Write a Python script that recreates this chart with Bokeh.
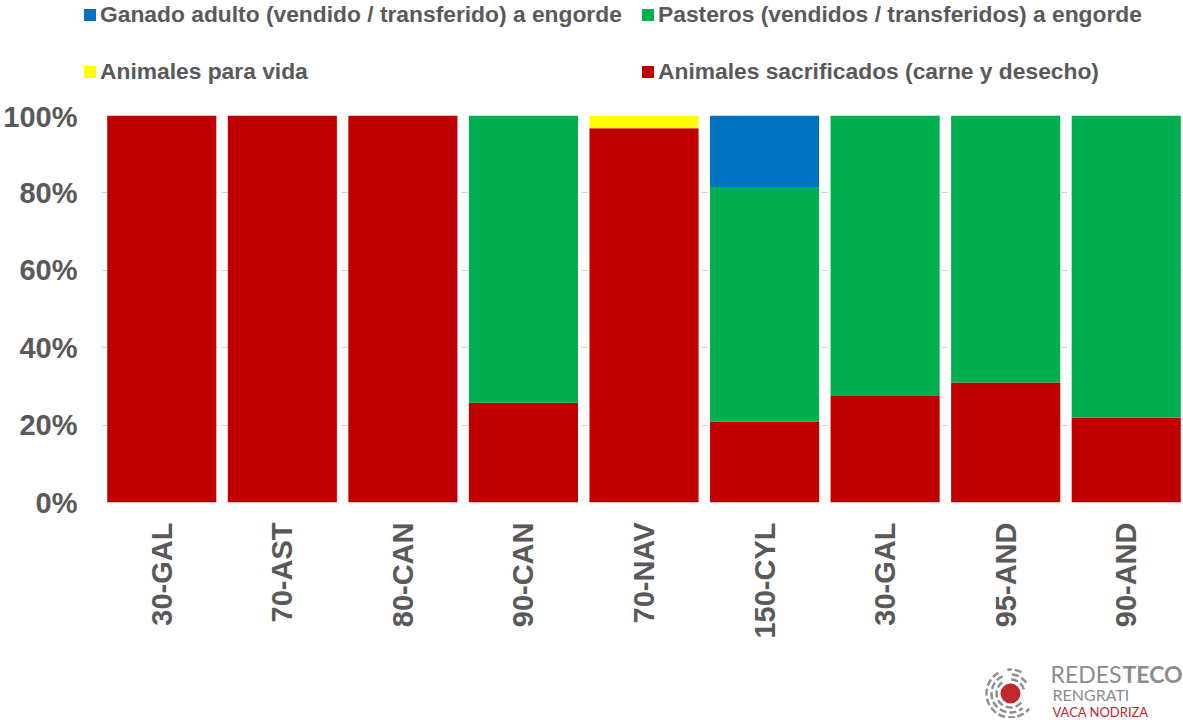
import math
from bokeh.plotting import figure
from bokeh.models import (ColumnDataSource, Range1d, FixedTicker, NumeralTickFormatter,
                          Legend, LegendItem, Spacer)
from bokeh.layouts import column, row
from bokeh.core.properties import value
from bokeh.embed import file_html
from bokeh.resources import INLINE

# ---------------- data ----------------
categories = ["30-GAL", "70-AST", "80-CAN", "90-CAN", "70-NAV", "150-CYL", "30-GAL", "95-AND", "90-AND"]
sacrificados = [100.0, 100.0, 100.0, 25.8, 96.7, 20.9, 27.5, 31.0, 21.9]
vida = [0.0, 0.0, 0.0, 0.0, 3.3, 0.0, 0.0, 0.0, 0.0]
pasteros = [0.0, 0.0, 0.0, 74.2, 0.0, 60.6, 72.5, 69.0, 78.1]
ganado = [0.0, 0.0, 0.0, 0.0, 0.0, 18.5, 0.0, 0.0, 0.0]
y_ticks = [0, 20, 40, 60, 80, 100]

series_labels = ["Ganado adulto (vendido / transferido) a engorde",
                 "Pasteros (vendidos / transferidos) a engorde",
                 "Animales para vida",
                 "Animales sacrificados (carne y desecho)"]

RED = "#C00000"
YELLOW = "#FFFF00"
GREEN = "#00B050"
BLUE = "#0070C0"
TXT = "#595959"
FONT = "Liberation Sans"

positions = list(range(1, len(categories) + 1))
src = ColumnDataSource(dict(
    x=positions,
    sac=[v / 100 for v in sacrificados],
    vida=[v / 100 for v in vida],
    past=[v / 100 for v in pasteros],
    gan=[v / 100 for v in ganado],
))

# ---------------- main chart ----------------
p = figure(width=1183, height=560, output_backend="svg", toolbar_location=None,
           x_range=Range1d(0.5, len(categories) + 0.475), y_range=Range1d(0, 1),
           min_border_left=101, min_border_top=15, min_border_bottom=158, min_border_right=0)
p.outline_line_color = None
p.frame_align = False

rs = p.vbar_stack(["sac", "vida", "past", "gan"], x="x", width=0.905,
                  color=[RED, YELLOW, GREEN, BLUE], line_color=None, source=src)

p.xaxis.ticker = FixedTicker(ticks=positions)
p.xaxis.major_label_overrides = {pos: c for pos, c in zip(positions, categories)}
p.xaxis.major_label_orientation = math.pi / 2
p.yaxis.ticker = FixedTicker(ticks=[t / 100 for t in y_ticks])
p.yaxis.formatter = NumeralTickFormatter(format="0%")
for ax in (p.xaxis[0], p.yaxis[0]):
    ax.axis_line_color = None
    ax.major_tick_line_color = None
    ax.minor_tick_line_color = None
    ax.major_tick_out = 0
    ax.major_tick_in = 0
    ax.major_label_text_font = FONT
    ax.major_label_text_font_style = "bold"
    ax.major_label_text_font_size = "29px"
    ax.major_label_text_color = TXT
p.xaxis.major_label_standoff = 20
p.yaxis.major_label_standoff = 24

p.xgrid.grid_line_color = None
p.ygrid.ticker = FixedTicker(ticks=[t / 100 for t in y_ticks])
p.ygrid.grid_line_color = "#CFCFCF"
p.ygrid.grid_line_dash = "6 4"
p.ygrid.grid_line_width = 1

# ---------------- legend strip ----------------
lf = figure(width=1183, height=100, output_backend="svg", toolbar_location=None,
            x_range=Range1d(0, 1183), y_range=Range1d(0, 100), min_border=0,
            x_axis_location=None, y_axis_location=None)
lf.frame_align = False
lf.grid.visible = False
lf.outline_line_color = None
series_colors = [BLUE, GREEN, YELLOW, RED]
# key swatches: zero-height bars placed off-screen, used only by the legend
keys = [lf.vbar(x=[-100], top=[0], bottom=[0], width=1, color=c, line_color=None)
        for c in series_colors]

legend_locs = [(82, 72), (640, 72), (82, 15), (640, 15)]
for label, key, loc in zip(series_labels, keys, legend_locs):
    lf.add_layout(Legend(items=[LegendItem(label=label, renderers=[key])], location=loc,
                         orientation="horizontal", glyph_width=15, glyph_height=15,
                         label_standoff=3, label_text_font=FONT, label_text_font_style="bold",
                         label_text_font_size="22.8px", label_text_color=TXT,
                         padding=0, margin=0, border_line_color=None,
                         background_fill_alpha=0), "center")

# ---------------- logo ----------------
lg = figure(width=203, height=58, output_backend="svg", toolbar_location=None,
            x_range=Range1d(0, 203), y_range=Range1d(0, 58), min_border=0,
            x_axis_location=None, y_axis_location=None)
lg.frame_align = False
lg.grid.visible = False
lg.outline_line_color = None
LOGO_GRAY = "#8C8C8C"
LOGO_RED = "#C0282D"
lg.arc(x=[30, 30, 30, 30, 30, 30, 30], y=[25, 25, 25, 25, 25, 25, 25],
       radius=[14, 14, 19, 19, 24, 24, 24],
       start_angle=[0.3, 2.2, 0.6, 2.0, 1.1, 2.1, 5.0], end_angle=[1.6, 5.6, 1.5, 5.4, 1.7, 4.9, 5.6],
       line_color=LOGO_GRAY, line_width=2.4, line_dash="7 3")
lg.scatter(x=[30], y=[25], size=20, color=LOGO_RED, line_color=None)
lg.text(x=[141], y=[44.5], text=["REDES"], text_font=value("Lato"), text_font_size="23px",
        text_color=LOGO_GRAY, text_align="right", text_baseline="middle")
lg.text(x=[142], y=[44.5], text=["TECO"], text_font=value("Lato"), text_font_size="23px",
        text_font_style="bold", text_color=LOGO_GRAY, text_align="left", text_baseline="middle")
lg.text(x=[72], y=[24], text=["RENGRATI"], text_font=value("Lato"), text_font_size="16px",
        text_color=LOGO_GRAY, text_align="left", text_baseline="middle")
lg.text(x=[72], y=[7], text=["VACA NODRIZA"], text_font=value("Lato"), text_font_size="13px",
        text_color=LOGO_RED, text_align="left", text_baseline="middle")

layout = column(lf, p, row(Spacer(width=980, height=58), lg))
open("out.html", "w").write(file_html(layout, INLINE))
